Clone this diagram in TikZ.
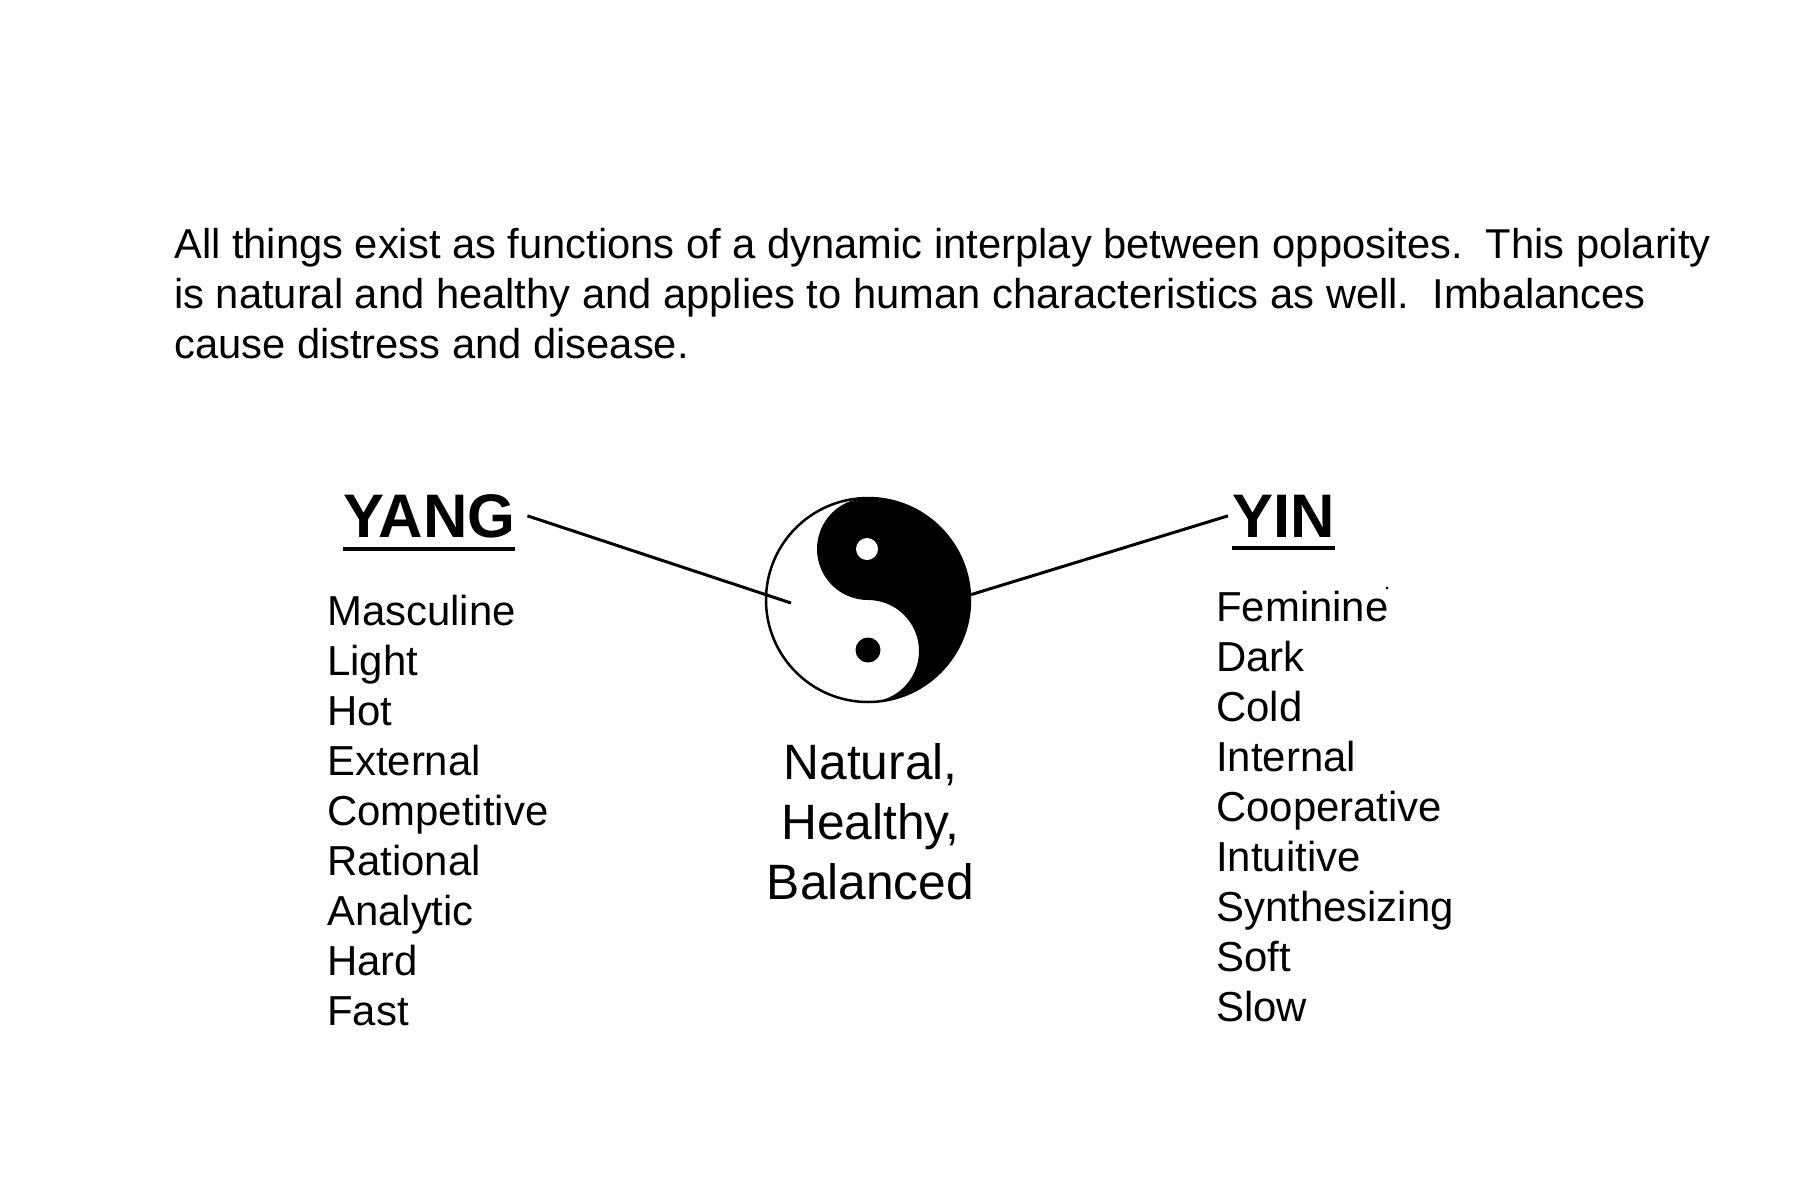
\documentclass[tikz,border=0pt]{standalone}
\usepackage{fontspec}
\setmainfont{Liberation Sans}
\tikzstyle{every node} = [inner sep = 0pt]
\tikzset{
    introtext/.style = {anchor = base west, align = left, font = \fontsize{41.7}{50}\selectfont},
    headword/.style = {anchor = base west, font = \fontsize{61.5}{62}\selectfont\bfseries},
    wordlist/.style = {anchor = base west, align = left, font = \fontsize{41.9}{50}\selectfont},
    middletext/.style = {anchor = base, align = center, font = \fontsize{49.7}{59.6}\selectfont},
    headrule/.style = {line width = 3.5pt},
    pointer/.style = {line width = 3pt}
}

\begin{document}
\begin{tikzpicture}[x = 1pt, y = -1pt]
        \useasboundingbox (0, 0) rectangle (1800, 1200);

        \node [introtext] (intro) at (174, 358)
        {All things exist as functions of a dynamic interplay between opposites.~~This polarity\\
         is natural and healthy and applies to human characteristics as well.~~Imbalances\\
         cause distress and disease.};

        \node [headword] (yang) at (343, 537) {YANG};
        \node [headword] (yin) at (1232, 537) {YIN};
        \draw [headrule] ([yshift = -12pt] yang.base west) -- ([yshift = -12pt] yang.base east);
        \draw [headrule] ([yshift = -11pt] yin.base west) -- ([yshift = -11pt] yin.base east);

        \node [wordlist] (yanglist) at (327, 1025)
        {Masculine\\Light\\Hot\\External\\Competitive\\Rational\\Analytic\\Hard\\Fast};
        \node [wordlist] (yinlist) at (1216, 1021)
        {Feminine\\Dark\\Cold\\Internal\\Cooperative\\Intuitive\\Synthesizing\\Soft\\Slow};

        % the symbol
        \node [circle, minimum size = 204pt, draw, line width = 2.5pt] (taiji) at (868, 600) {};
        \fill (868, 498) arc [start angle = -90, end angle = 90, radius = 102]
            arc [start angle = 90, end angle = -90, radius = 51]
            arc [start angle = 90, end angle = 270, radius = 51];
        \fill [white] (867, 549) circle [radius = 11];
        \fill (868, 650) circle [radius = 12.5];
        \fill (1387, 588) circle [radius = 1.5];

        \node [middletext] (balance) at (870.5, 899) {Natural,\\Healthy,\\Balanced};

        \coordinate (yangtip) at (791, 603);
        \draw [pointer] ([xshift = 12pt] yang.east) -- (yangtip);
        \draw [pointer] (taiji.3) -- ([xshift = -4pt] yin.west);
    \end{tikzpicture}
\end{document}
